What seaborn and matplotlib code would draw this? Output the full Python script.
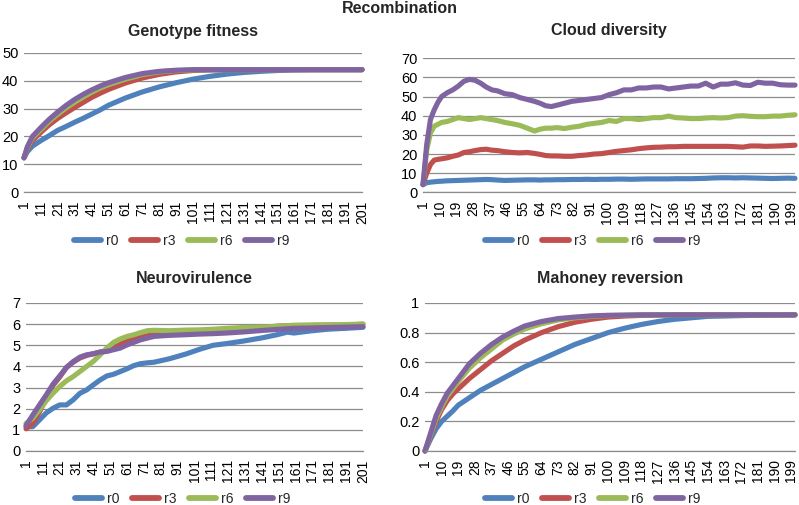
import matplotlib
matplotlib.use("Agg")
import matplotlib.pyplot as plt
from matplotlib.lines import Line2D
import seaborn as sns
import pandas as pd

# ---------------- data ----------------
series_names = ["r0", "r3", "r6", "r9"]
series_colors = ["#4F81BD", "#C0504D", "#9BBB59", "#8064A2"]

# Genotype fitness
gen_fit = [1, 3, 6, 11, 16, 21, 26, 31, 36, 41, 46, 51, 61, 71, 81, 91, 101, 111,
           121, 131, 141, 151, 161, 171, 181, 191, 201]
fit_r0 = [12.3, 14.5, 16.5, 18.5, 20.3, 22.2, 23.6, 25.1, 26.5, 28.0, 29.5, 31.2, 33.8,
          36.0, 37.8, 39.3, 40.6, 41.6, 42.4, 43.0, 43.4, 43.7, 43.9, 44.0, 44.0, 44.0, 44.0]
fit_r3 = [12.3, 15.5, 18.5, 21.5, 24.2, 26.5, 28.5, 30.4, 32.2, 34.0, 35.5, 36.9, 39.2,
          41.0, 42.3, 43.2, 43.7, 43.9, 44.0, 44.0, 44.0, 44.0, 44.0, 44.0, 44.0, 44.0, 44.0]
fit_r6 = [12.3, 16.0, 19.5, 22.5, 25.5, 28.0, 30.3, 32.3, 34.2, 35.9, 37.4, 38.6, 40.6,
          42.2, 43.2, 43.7, 43.9, 44.0, 44.0, 44.0, 44.0, 44.0, 44.0, 44.0, 44.0, 44.0, 44.0]
fit_r9 = [12.3, 16.3, 20.0, 23.2, 26.2, 28.8, 31.2, 33.3, 35.1, 36.7, 38.1, 39.3, 41.2,
          42.6, 43.4, 43.8, 44.0, 44.0, 44.0, 44.0, 44.0, 44.0, 44.0, 44.0, 44.0, 44.0, 44.0]

# Cloud diversity
gen_div = [1, 3, 5, 7, 9, 11, 14, 17, 20, 23, 26, 29, 32, 35, 38, 41, 45, 49, 53, 57,
           61, 64, 67, 70, 73, 77, 81, 85, 89, 93, 97, 101, 105, 109, 113, 117, 121, 125,
           129, 133, 137, 141, 145, 149, 153, 157, 161, 165, 169, 173, 177, 181, 185, 189,
           193, 197, 201]
div_r0 = [4.0, 5.0, 5.3, 5.5, 5.7, 5.8, 6.0, 6.1, 6.2, 6.3, 6.4, 6.5, 6.6, 6.7, 6.6, 6.4,
          6.2, 6.3, 6.4, 6.5, 6.5, 6.4, 6.5, 6.5, 6.6, 6.6, 6.7, 6.7, 6.8, 6.7, 6.8, 6.8,
          6.9, 6.9, 6.8, 6.9, 7.0, 7.0, 7.0, 7.0, 7.1, 7.1, 7.1, 7.2, 7.3, 7.5, 7.6, 7.6,
          7.5, 7.6, 7.5, 7.4, 7.3, 7.2, 7.3, 7.4, 7.3]
div_r3 = [4.0, 10.0, 14.5, 16.8, 17.2, 17.5, 18.0, 18.8, 19.5, 20.8, 21.2, 21.8, 22.3,
          22.5, 22.0, 21.8, 21.2, 20.8, 20.6, 20.8, 20.3, 19.8, 19.2, 19.0, 19.0, 18.8,
          18.8, 19.2, 19.5, 20.0, 20.2, 20.8, 21.4, 21.8, 22.2, 22.8, 23.2, 23.5, 23.6,
          23.8, 23.8, 24.0, 24.0, 24.0, 24.0, 24.0, 24.0, 24.0, 23.8, 23.6, 24.2, 24.2,
          24.0, 24.1, 24.2, 24.4, 24.6]
div_r6 = [4.0, 22.0, 31.0, 34.5, 35.5, 36.5, 37.0, 38.0, 39.0, 38.5, 38.0, 38.5, 39.0,
          38.5, 38.0, 37.5, 36.5, 35.8, 35.0, 33.5, 32.0, 33.0, 33.5, 33.5, 33.8, 33.3,
          34.0, 34.5, 35.5, 36.0, 36.5, 37.5, 37.0, 38.5, 38.5, 38.0, 38.5, 39.0, 39.0,
          39.8, 39.0, 38.8, 38.5, 38.5, 38.8, 39.0, 38.8, 39.0, 39.8, 40.0, 39.7, 39.5,
          39.5, 39.8, 39.8, 40.2, 40.5]
div_r9 = [4.0, 25.0, 38.0, 43.0, 47.0, 50.0, 52.0, 53.5, 55.5, 58.0, 59.0, 58.5, 57.0,
          55.0, 53.5, 53.0, 51.5, 51.0, 49.5, 48.5, 47.5, 46.5, 45.2, 44.8, 45.5, 46.5,
          47.5, 48.0, 48.5, 49.0, 49.5, 51.0, 52.0, 53.5, 53.5, 54.5, 54.5, 55.0, 55.0,
          54.0, 54.5, 55.0, 55.5, 55.5, 57.0, 55.0, 56.5, 56.5, 57.2, 56.0, 55.8, 57.5,
          57.0, 57.0, 56.2, 56.0, 56.0]

# Neurovirulence
gen_neu = [1, 5, 9, 13, 17, 21, 25, 29, 33, 37, 41, 45, 49, 53, 57, 61, 65, 69, 73, 77,
           86, 96, 104, 112, 120, 130, 141, 150, 156, 160, 170, 180, 190, 201]
neu_r0 = [1.15, 1.15, 1.47, 1.8, 2.02, 2.18, 2.18, 2.42, 2.73, 2.89, 3.13, 3.36, 3.55,
          3.63, 3.76, 3.89, 4.04, 4.13, 4.17, 4.2, 4.36, 4.59, 4.81, 5.0, 5.08, 5.2, 5.35,
          5.5, 5.62, 5.58, 5.68, 5.76, 5.8, 5.85]
neu_r3 = [1.05, 1.3, 1.85, 2.5, 3.1, 3.5, 3.95, 4.2, 4.4, 4.52, 4.6, 4.68, 4.75, 4.88,
          5.05, 5.2, 5.3, 5.38, 5.45, 5.52, 5.55, 5.6, 5.62, 5.66, 5.7, 5.76, 5.85, 5.9,
          5.92, 5.93, 5.94, 5.95, 5.95, 6.0]
neu_r6 = [1.3, 1.55, 1.95, 2.37, 2.73, 3.05, 3.32, 3.52, 3.76, 4.0, 4.24, 4.55, 4.87,
          5.14, 5.3, 5.42, 5.5, 5.6, 5.69, 5.71, 5.69, 5.72, 5.73, 5.76, 5.8, 5.84, 5.86,
          5.9, 5.93, 5.95, 5.96, 5.97, 5.98, 6.0]
neu_r9 = [1.2, 1.7, 2.18, 2.65, 3.16, 3.55, 3.95, 4.23, 4.44, 4.55, 4.6, 4.68, 4.71,
          4.79, 4.87, 5.02, 5.14, 5.26, 5.34, 5.42, 5.47, 5.5, 5.53, 5.55, 5.58, 5.63, 5.7,
          5.75, 5.78, 5.8, 5.82, 5.84, 5.86, 5.88]

# Mahoney reversion
gen_mah = [1, 4, 7, 10, 13, 16, 19, 25, 31, 37, 43, 49, 55, 64, 73, 82, 91, 100, 109,
           118, 127, 136, 145, 154, 163, 172, 181, 190, 201]
mah_r0 = [0.0, 0.08, 0.15, 0.2, 0.235, 0.27, 0.31, 0.36, 0.41, 0.45, 0.49, 0.53, 0.57,
          0.62, 0.67, 0.72, 0.76, 0.80, 0.83, 0.855, 0.875, 0.89, 0.90, 0.91, 0.912,
          0.915, 0.917, 0.918, 0.92]
mah_r3 = [0.0, 0.1, 0.2, 0.28, 0.34, 0.385, 0.42, 0.49, 0.55, 0.61, 0.66, 0.71, 0.75,
          0.80, 0.84, 0.87, 0.89, 0.905, 0.912, 0.916, 0.918, 0.92, 0.92, 0.92, 0.92,
          0.92, 0.92, 0.92, 0.92]
mah_r6 = [0.0, 0.11, 0.22, 0.30, 0.37, 0.42, 0.47, 0.56, 0.63, 0.69, 0.75, 0.79, 0.825,
          0.86, 0.885, 0.90, 0.91, 0.915, 0.918, 0.92, 0.92, 0.92, 0.92, 0.92, 0.92,
          0.92, 0.92, 0.92, 0.92]
mah_r9 = [0.0, 0.12, 0.24, 0.32, 0.39, 0.44, 0.49, 0.59, 0.66, 0.72, 0.77, 0.81, 0.845,
          0.875, 0.895, 0.905, 0.913, 0.917, 0.918, 0.92, 0.92, 0.92, 0.92, 0.92, 0.92,
          0.92, 0.92, 0.92, 0.92]

main_title = "Recombination"
panel_titles = ["Genotype fitness", "Cloud diversity", "Neurovirulence", "Mahoney reversion"]
yticks_fit = [0, 10, 20, 30, 40, 50]
yticks_div = [0, 10, 20, 30, 40, 50, 60, 70]
yticks_neu = [0, 1, 2, 3, 4, 5, 6, 7]
yticks_mah = [0, 0.2, 0.4, 0.6, 0.8, 1]
ytick_labels_mah = ["0", "0.2", "0.4", "0.6", "0.8", "1"]
xticks_left = list(range(1, 202, 10))
xticks_right = list(range(1, 200, 9))


def long_df(gens, values):
    rows = []
    for name, vals in zip(series_names, values):
        for g, v in zip(gens, vals):
            rows.append({"gen": g, "value": v, "series": name})
    return pd.DataFrame(rows)


panels = [
    dict(df=long_df(gen_fit, [fit_r0, fit_r3, fit_r6, fit_r9]), yt=yticks_fit,
         ytl=[str(t) for t in yticks_fit], xt=xticks_left,
         rect=[24 / 799, 1 - 192 / 505, 338 / 799, 139 / 505], pad=12.2, legx=182 / 799, legy=1 - 241 / 505),
    dict(df=long_df(gen_div, [div_r0, div_r3, div_r6, div_r9]), yt=yticks_div,
         ytl=[str(t) for t in yticks_div], xt=xticks_right,
         rect=[423 / 799, 1 - 192.3 / 505, 372 / 799, 134 / 505], pad=16.5, legx=593 / 799, legy=1 - 241 / 505),
    dict(df=long_df(gen_neu, [neu_r0, neu_r3, neu_r6, neu_r9]), yt=yticks_neu,
         ytl=[str(t) for t in yticks_neu], xt=xticks_left,
         rect=[26 / 799, 1 - 451 / 505, 337 / 799, 148 / 505], pad=14.4, legx=183 / 799, legy=1 - 499 / 505),
    dict(df=long_df(gen_mah, [mah_r0, mah_r3, mah_r6, mah_r9]), yt=yticks_mah,
         ytl=ytick_labels_mah, xt=xticks_right,
         rect=[425 / 799, 1 - 451 / 505, 370 / 799, 148 / 505], pad=14.4, legx=593 / 799, legy=1 - 499 / 505),
]

# ---------------- style ----------------
sns.set_style("white")
plt.rcParams["font.family"] = ["Liberation Sans", "DejaVu Sans"]

fig = plt.figure(figsize=(7.99, 5.05), dpi=100)
fig.patch.set_facecolor("white")
grid_color = "#8C8C8C"
palette = dict(zip(series_names, series_colors))

for p, title in zip(panels, panel_titles):
    ax = fig.add_axes(p["rect"])
    sns.lineplot(data=p["df"], x="gen", y="value", hue="series", palette=palette,
                 linewidth=3.7, ax=ax, legend=False, clip_on=False,
                 solid_capstyle="round", solid_joinstyle="round")
    ax.set_xlim(1, 201)
    ax.set_ylim(p["yt"][0], p["yt"][-1])
    ax.set_yticks(p["yt"])
    ax.set_yticklabels(p["ytl"])
    ax.set_xticks(p["xt"])
    ax.set_xticklabels([str(t) for t in p["xt"]], rotation=90)
    ax.set_xlabel("")
    ax.set_ylabel("")
    ax.yaxis.grid(True, color=grid_color, linewidth=0.9)
    ax.set_axisbelow(True)
    for s in ["top", "right", "left"]:
        ax.spines[s].set_visible(False)
    ax.spines["bottom"].set_color(grid_color)
    ax.spines["bottom"].set_linewidth(0.9)
    ax.tick_params(axis="y", length=0, pad=4, labelsize=10.5, colors="black")
    ax.tick_params(axis="x", length=0, pad=6, labelsize=10, colors="black")
    ax.set_title(title, fontsize=11.5, fontweight="bold", pad=p["pad"])
    handles = [Line2D([0], [0], color=c, lw=4.2) for c in series_colors]
    fig.legend(handles, series_names, loc="center", bbox_to_anchor=(p["legx"], p["legy"]),
               ncol=4, frameon=False, fontsize=10, handlelength=1.9,
               handletextpad=0.4, columnspacing=0.9, borderaxespad=0, borderpad=0)

fig.text(0.5, 1 - 12.7 / 505, main_title, ha="center", va="baseline",
         fontsize=11.5, fontweight="bold")

fig.savefig("out.png", dpi=100, facecolor="white")
